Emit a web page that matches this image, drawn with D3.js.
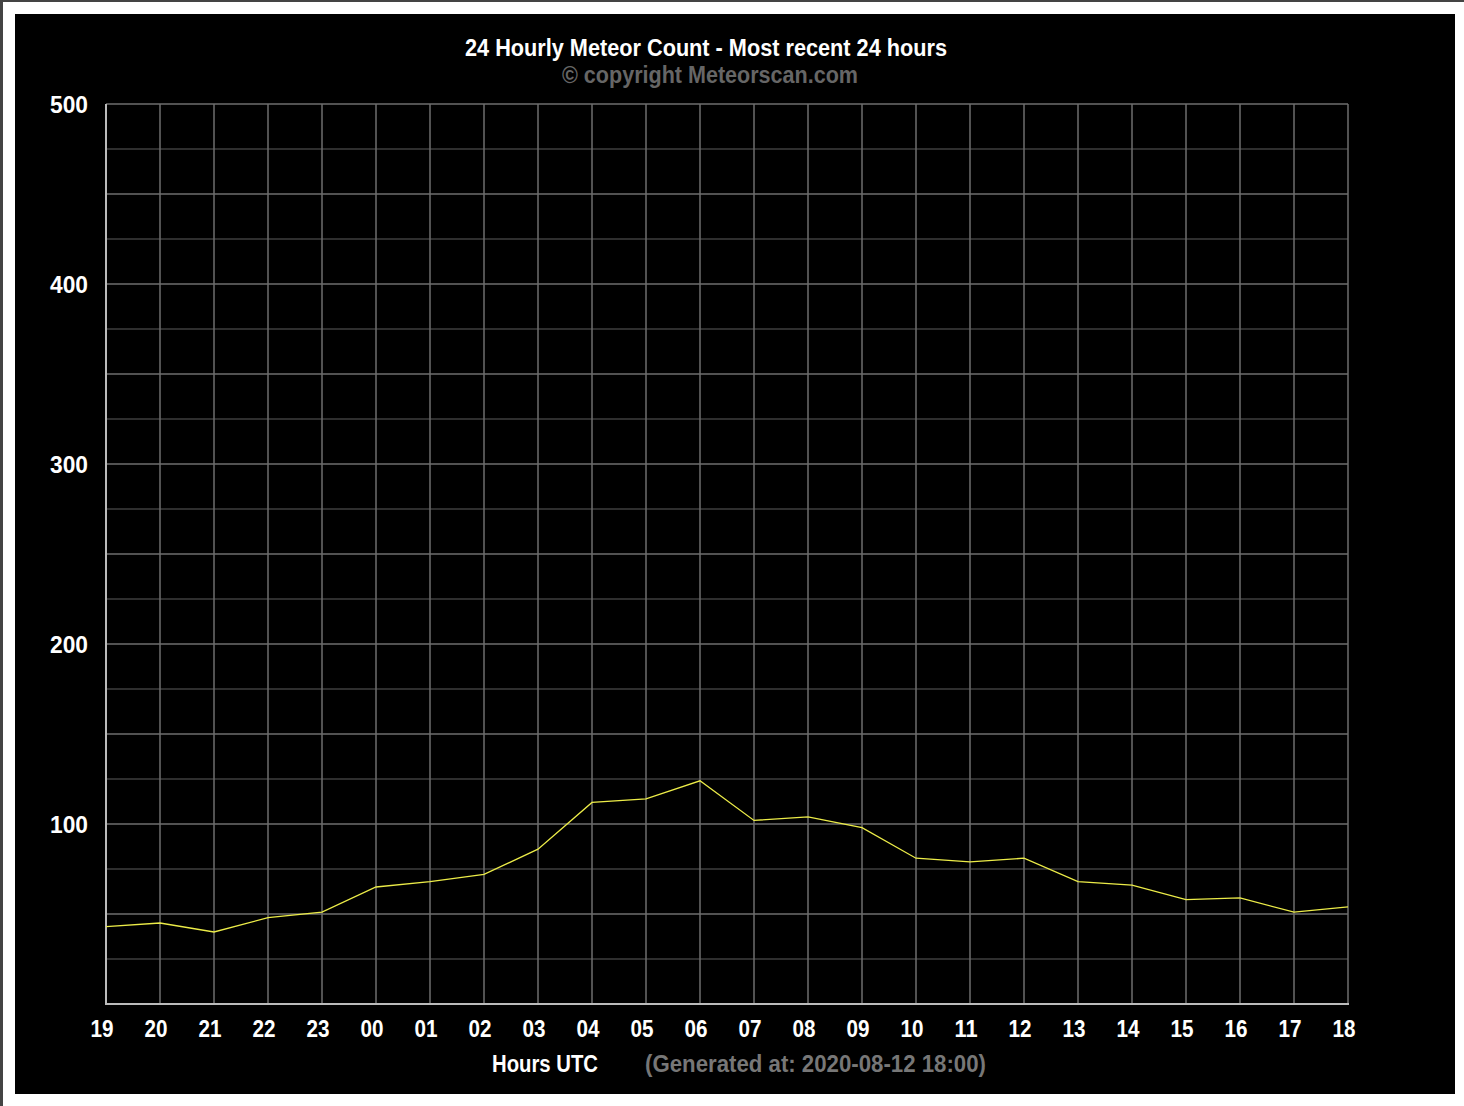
<!DOCTYPE html>
<html>
<head>
<meta charset="utf-8">
<script src="https://cdn.jsdelivr.net/npm/d3@7"></script>
<style>
html,body{margin:0;padding:0;background:#fff;}
svg{display:block;}
text{font-family:"Liberation Sans Narrow","Liberation Sans",sans-serif;font-weight:bold;}
</style>
</head>
<body>
<svg id="chart" width="1464" height="1106"></svg>
<script>
const hours = ["19","20","21","22","23","00","01","02","03","04","05","06","07","08","09","10","11","12","13","14","15","16","17","18"];
const counts = [43,45,40,48,51,65,68,72,86,112,114,124,102,104,98,81,79,81,68,66,58,59,51,54];
const yTicks = [100,200,300,400,500];
const title = "24 Hourly Meteor Count - Most recent 24 hours";
const subtitle = "\u00a9 copyright Meteorscan.com";
const xTitle = "Hours UTC";
const generated = "(Generated at: 2020-08-12 18:00)";

const svg = d3.select("#chart");
// frame
svg.append("rect").attr("x",0).attr("y",0).attr("width",1464).attr("height",1106).attr("fill","#fff");
svg.append("rect").attr("x",0).attr("y",0).attr("width",1464).attr("height",2).attr("fill","#444");
svg.append("rect").attr("x",0).attr("y",0).attr("width",3).attr("height",1106).attr("fill","#444");
svg.append("rect").attr("x",15).attr("y",14).attr("width",1440).attr("height",1080).attr("fill","#000");

const L=106,R=1348,T=104,B=1004;
const x = d3.scalePoint().domain(d3.range(hours.length)).range([L,R]);
const y = d3.scaleLinear().domain([0,500]).range([B,T]);

const g = svg.append("g");
g.selectAll("line.minor").data(d3.range(25,500,50)).join("line")
  .attr("x1",L).attr("x2",R).attr("y1",d=>y(d)).attr("y2",d=>y(d))
  .attr("stroke","#3e3e3e").attr("stroke-width",1.5);
g.selectAll("line.major").data(d3.range(50,501,50)).join("line")
  .attr("x1",L).attr("x2",R).attr("y1",d=>y(d)).attr("y2",d=>y(d))
  .attr("stroke","#6e6e6e").attr("stroke-width",1.5);
g.selectAll("line.v").data(d3.range(1,hours.length)).join("line")
  .attr("x1",d=>x(d)).attr("x2",d=>x(d)).attr("y1",T).attr("y2",B)
  .attr("stroke","#6e6e6e").attr("stroke-width",1.5);
g.append("line").attr("x1",L).attr("x2",L).attr("y1",T).attr("y2",B+1).attr("stroke","#bbb").attr("stroke-width",2);
g.append("line").attr("x1",L).attr("x2",R+1).attr("y1",B).attr("y2",B).attr("stroke","#bbb").attr("stroke-width",2);

const line = d3.line().x((d,i)=>x(i)).y(d=>y(d));
g.append("path").datum(counts).attr("d",line).attr("fill","none")
  .attr("stroke","#ecec48").attr("stroke-width",1.3);

const FS = 23;
g.selectAll("text.y").data(yTicks).join("text")
  .attr("x",88).attr("y",d=>y(d)+9).attr("text-anchor","end")
  .attr("fill","#fff").attr("font-size",FS)
  .attr("textLength",38).attr("lengthAdjust","spacingAndGlyphs").text(d=>d);
g.selectAll("text.x").data(hours).join("text")
  .attr("x",(d,i)=>x(i)-4).attr("y",1037).attr("text-anchor","middle")
  .attr("fill","#fff").attr("font-size",FS)
  .attr("textLength",23).attr("lengthAdjust","spacingAndGlyphs").text(d=>d);

function label(t,cx,by,w,fill){
  svg.append("text").attr("x",cx).attr("y",by).attr("text-anchor","middle")
    .attr("fill",fill).attr("font-size",FS)
    .attr("textLength",w).attr("lengthAdjust","spacingAndGlyphs").text(t);
}
label(title,706,56,482,"#fff");
label(subtitle,710,83,296,"#666");
label(xTitle,545,1072,106,"#fff");
label(generated,815.5,1072,341,"#777");
</script>
</body>
</html>
